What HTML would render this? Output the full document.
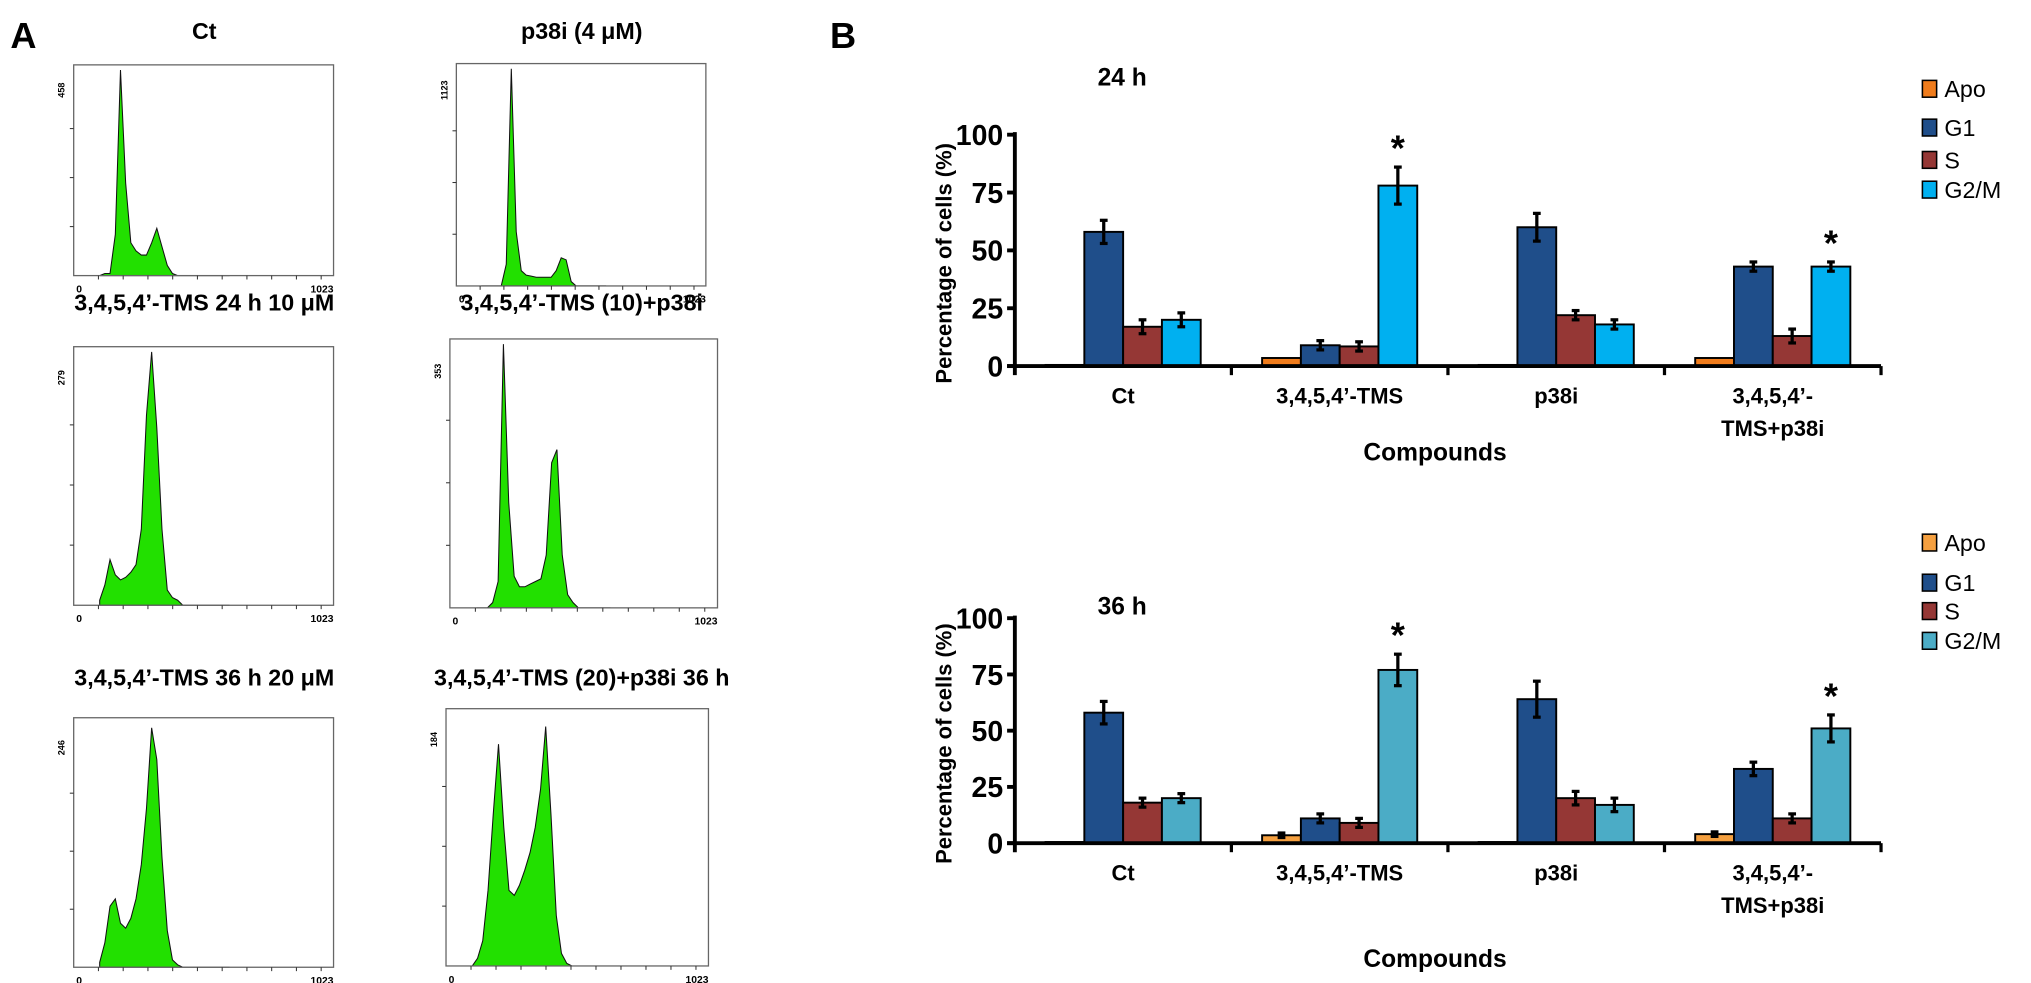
<!DOCTYPE html>
<html><head><meta charset="utf-8"><style>
html,body{margin:0;padding:0;background:#fff;}
svg{display:block;font-family:"Liberation Sans",sans-serif;}
</style></head><body>
<svg id="fig" width="2031" height="983" viewBox="0 0 1571 760" xmlns="http://www.w3.org/2000/svg">
<rect width="1571" height="760" fill="#fff"/>
<text x="8" y="37" font-size="28" font-weight="bold">A</text>
<text x="642" y="37" font-size="28" font-weight="bold">B</text>
<g id="hists"></g>
<g id="bars"></g>
</svg>
<script>
const NS="http://www.w3.org/2000/svg";
function mk(tag,attrs,parent,txt){const e=document.createElementNS(NS,tag);for(const k in attrs)e.setAttribute(k,attrs[k]);if(txt!==undefined)e.textContent=txt;parent.appendChild(e);return e;}

// ---------- Histogram data (bins at fractions 0.10..0.60 step 0.02) ----------
const histBinStart=0.10, histBinStep=0.02;
const histTitles=["Ct","p38i (4 μM)","3,4,5,4’-TMS 24 h 10 μM","3,4,5,4’-TMS (10)+p38i","3,4,5,4’-TMS 36 h 20 μM","3,4,5,4’-TMS (20)+p38i 36 h"];
const histMaxLabels=["458","1123","279","353","246","184"];
const histCt=[0,0.01,0.01,0.2,1.0,0.45,0.16,0.12,0.1,0.1,0.16,0.23,0.14,0.05,0.01,0,0,0,0,0,0,0,0,0,0,0];
const histP38=[0,0,0,0,0,0.1,1.0,0.25,0.07,0.05,0.045,0.04,0.04,0.04,0.04,0.07,0.13,0.12,0.02,0,0,0,0,0,0,0];
const histTms24=[0.02,0.08,0.18,0.12,0.1,0.11,0.13,0.16,0.3,0.75,1.0,0.7,0.3,0.06,0.03,0.02,0,0,0,0,0,0,0,0,0,0];
const histTms10p=[0,0,0,0.02,0.1,1.0,0.4,0.12,0.08,0.08,0.09,0.1,0.11,0.2,0.55,0.6,0.2,0.05,0.02,0,0,0,0,0,0,0];
const histTms36=[0.02,0.1,0.25,0.28,0.18,0.16,0.2,0.28,0.42,0.65,0.98,0.85,0.45,0.15,0.03,0.01,0,0,0,0,0,0,0,0,0,0];
const histTms20p=[0,0.03,0.1,0.3,0.6,0.88,0.55,0.3,0.28,0.32,0.38,0.45,0.55,0.7,0.95,0.6,0.2,0.05,0.01,0,0,0,0,0,0,0];
const histSeries=[histCt,histP38,histTms24,histTms10p,histTms36,histTms20p];
const histBoxes=[[57,50,201,163],[353,49,193,172],[57,268,201,200],[348,262,207,208],[57,555,201,193],[345,548,203,199]];
const histTitlePos=[[158,30],[450,30],[158,240],[450,240],[158,530],[450,530]];

const hg=document.getElementById('hists');
histSeries.forEach((vals,i)=>{
  const [bx,by,bw,bh]=histBoxes[i];
  const g=mk('g',{},hg);
  
  
  const t=mk('text',{x:histTitlePos[i][0],y:histTitlePos[i][1],'font-size':18,'font-weight':'bold','text-anchor':'middle'},g,histTitles[i]);
  
  
  const sx=f=>bx+f*bw, sy=v=>by+bh-v*(bh-4);
  let d='M'+sx(histBinStart)+','+sy(0);
  vals.forEach((v,k)=>{d+=' L'+sx(histBinStart+k*histBinStep).toFixed(1)+','+sy(v).toFixed(1);});
  d+=' L'+sx(histBinStart+(vals.length-1)*histBinStep)+','+sy(0)+' Z';
  const p=mk('path',{d:d,fill:'#22e000',stroke:'#111','stroke-width':0.8},g);
  
  
  const r=mk('rect',{x:bx,y:by,width:bw,height:bh,fill:'none',stroke:'#666','stroke-width':1},g);
  
  
  for(let k=1;k<=10;k++){mk('line',{x1:bx+k*bw/10.5,x2:bx+k*bw/10.5,y1:by+bh,y2:by+bh+3,stroke:'#333','stroke-width':0.8},g);}
  for(let k=1;k<=3;k++){mk('line',{x1:bx-3,x2:bx,y1:by+bh-k*bh/4.3,y2:by+bh-k*bh/4.3,stroke:'#333','stroke-width':0.8},g);}
  mk('text',{x:bx+2,y:by+bh+13,'font-size':8,'font-weight':'bold'},g,'0');
  mk('text',{x:bx+bw,y:by+bh+13,'font-size':8,'font-weight':'bold','text-anchor':'end'},g,'1023');
  mk('text',{x:0,y:0,'font-size':7,'font-weight':'bold','text-anchor':'middle',transform:`translate(${bx-7},${by+bh*0.12}) rotate(-90)`},g,histMaxLabels[i]);
});

// ---------- Bar chart data ----------
const categories=["Ct","3,4,5,4’-TMS","p38i","3,4,5,4’-TMS+p38i"];
const seriesNames=["Apo","G1","S","G2/M"];
const yTicks=[0,25,50,75,100];
const apo24=[0.5,3.5,0.5,3.5], apo24Err=[0,0,0,0];
const g1_24=[58,9,60,43], g1_24Err=[5,2,6,2];
const s24=[17,8.5,22,13], s24Err=[3,2,2,3];
const g2m24=[20,78,18,43], g2m24Err=[3,8,2,2];
const star24=[false,true,false,true];
const apo36=[0.5,3.5,0.5,4], apo36Err=[0,1,0,1];
const g1_36=[58,11,64,33], g1_36Err=[5,2,8,3];
const s36=[18,9,20,11], s36Err=[2,2,3,2];
const g2m36=[20,77,17,51], g2m36Err=[2,7,3,6];
const star36=[false,true,false,true];

const charts=[
 {title:"24 h",y0:283,y100:104,vals:[apo24,g1_24,s24,g2m24],errs:[apo24Err,g1_24Err,s24Err,g2m24Err],stars:star24,colors:["#f07c1c","#1f4e8a","#953735","#00b0f0"],legendY:[73,103,128,151],titleY:66,labY:[312,337],compY:356,name:'24h'},
 {title:"36 h",y0:652,y100:478,vals:[apo36,g1_36,s36,g2m36],errs:[apo36Err,g1_36Err,s36Err,g2m36Err],stars:star36,colors:["#f5a040","#1f4e8a","#953735","#4bacc6"],legendY:[424,455,477,500],titleY:475,labY:[681,706],compY:748,name:'36h'}
];
const bg=document.getElementById('bars');
const ax0=785, ax1=1455, catW=(ax1-ax0)/categories.length, barW=30;
charts.forEach(c=>{
  const g=mk('g',{},bg);
  
  
  const y=v=>c.y0-(v/100)*(c.y0-c.y100);
  const t=mk('text',{x:868,y:c.titleY,'font-size':19,'font-weight':'bold','text-anchor':'middle'},g,c.title);
  
  
  categories.forEach((cat,ci)=>{
    const gx=ax0+ci*catW+catW/2-2*barW;
    c.vals.forEach((ser,si)=>{
      const v=ser[ci], x=gx+si*barW;
      const r=mk('rect',{x:x,y:y(v),width:barW,height:c.y0-y(v),fill:c.colors[si],stroke:'#000','stroke-width':1.5},g);
      
      
      const e=c.errs[si][ci];
      if(e>0){
        const cx=x+barW/2;
        mk('line',{x1:cx,x2:cx,y1:y(v+e),y2:y(v-e),stroke:'#000','stroke-width':2.5},g);
        mk('line',{x1:cx-3,x2:cx+3,y1:y(v+e),y2:y(v+e),stroke:'#000','stroke-width':2.5},g);
        mk('line',{x1:cx-3,x2:cx+3,y1:y(v-e),y2:y(v-e),stroke:'#000','stroke-width':2.5},g);
      }
    });
    if(c.stars[ci]){
      const v=c.vals[3][ci]+c.errs[3][ci];
      const s=mk('text',{x:gx+3.5*barW,y:y(v)-5,'font-size':28,'font-weight':'bold','text-anchor':'middle'},g,'*');
      
      
    }
    const parts=cat==="3,4,5,4’-TMS+p38i"?["3,4,5,4’-","TMS+p38i"]:[cat];
    parts.forEach((pt,pi)=>{
      const l=mk('text',{x:ax0+ci*catW+catW/2,y:c.labY[pi],'font-size':17,'font-weight':'bold','text-anchor':'middle'},g,pt);
      
      
    });
    mk('line',{x1:ax0+(ci+1)*catW,x2:ax0+(ci+1)*catW,y1:c.y0,y2:c.y0+7,stroke:'#000','stroke-width':2.5},g);
  });
  const ya=mk('line',{x1:ax0,x2:ax0,y1:c.y100-2,y2:c.y0+7,stroke:'#000','stroke-width':3},g);
  
  
  const xa=mk('line',{x1:ax0-6,x2:ax1,y1:c.y0,y2:c.y0,stroke:'#000','stroke-width':3},g);
  
  
  yTicks.forEach(tv=>{
    mk('line',{x1:ax0-6,x2:ax0,y1:y(tv),y2:y(tv),stroke:'#000','stroke-width':3},g);
    const tl=mk('text',{x:ax0-9,y:y(tv)+8,'font-size':22,'font-weight':'bold','text-anchor':'end'},g,String(tv));
    
    
  });
  const yt=mk('text',{x:0,y:0,'font-size':17,'font-weight':'bold','text-anchor':'middle',transform:`translate(${736},${(c.y0+c.y100)/2+10}) rotate(-90)`},g,'Percentage of cells (%)');
  
  
  const xt=mk('text',{x:1110,y:c.compY,'font-size':19,'font-weight':'bold','text-anchor':'middle'},g,'Compounds');
  
  
  seriesNames.forEach((n,si)=>{
    const lg=mk('g',{},g);
    
    
    mk('rect',{x:1487,y:c.legendY[si]-11,width:11,height:13,fill:c.colors[si],stroke:'#000','stroke-width':1.2},lg);
    mk('text',{x:1504,y:c.legendY[si]+2,'font-size':18},lg,n);
  });
});
</script>
</body></html>
